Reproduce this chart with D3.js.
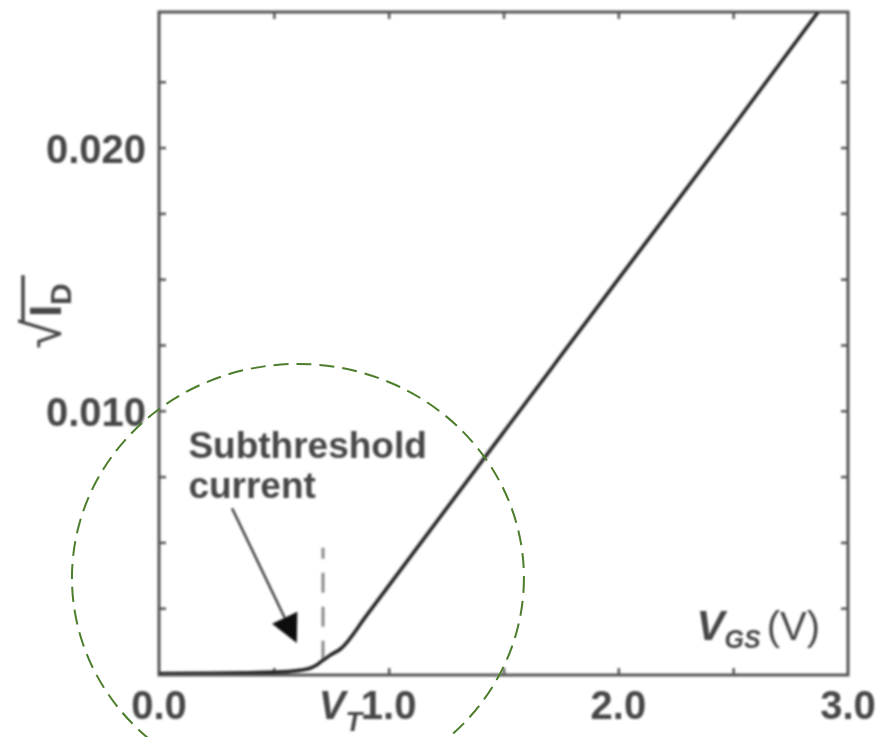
<!DOCTYPE html>
<html>
<head>
<meta charset="utf-8">
<script src="https://cdn.jsdelivr.net/npm/d3@7"></script>
<style>
  html, body { margin: 0; padding: 0; background: #fff; }
  svg { display: block; }
  text { font-family: "Liberation Sans", Arial, Helvetica, sans-serif; }
</style>
</head>
<body>
<svg id="chart" width="883" height="737"></svg>
<script>
// Gate voltage (V) and square root of drain current
const vgs    = [0.0, 0.2, 0.4, 0.5, 0.57, 0.62, 0.66, 0.69, 0.71, 0.73, 0.75, 0.79, 0.9, 1.0, 1.5, 2.0, 2.5, 2.87];
const sqrtId = [0.00002, 0.00003, 0.00005, 0.00007, 0.0001, 0.00015, 0.00023, 0.00036, 0.0005, 0.00062, 0.00074, 0.00095, 0.00218, 0.00335, 0.00918, 0.0150, 0.0208, 0.02515];

// Axis ticks
const xTickLabels = ["0.0", "1.0", "2.0", "3.0"];
const xTickValues = [0, 1, 2, 3];
const xMinorTicks = [0.5, 1, 1.5, 2, 2.5];
const yTickLabels = ["0.010", "0.020"];
const yTickValues = [0.010, 0.020];
const yMinorTicks = [0.0025, 0.005, 0.0075, 0.010, 0.0125, 0.015, 0.0175, 0.020, 0.0225];

// Threshold voltage and annotations
const vT = 0.714;
const vTLine = [0.0005, 0.0048];                 // extent of the dashed marker
const arrowFrom = [0.318, 0.0063];               // [V, sqrt(I)]
const arrowTo   = [0.600, 0.00118];
const noteLines = ["Subthreshold", "current"];
const noteAt    = [0.128, 0.0082];
const ring      = { cx: 0.605, cy: 0.00365, rx: 0.984, ry: 0.00813 };

const svg = d3.select("#chart");
const plotLeft = 159, plotRight = 848, plotTop = 12, plotBottom = 674;

const x = d3.scaleLinear().domain([0, 3]).range([plotLeft, plotRight]);
const y = d3.scaleLinear().domain([0, 0.02515]).range([plotBottom, plotTop]);

const ink = "#262626";
const inkText = "#474747";

// soft edge of the printed figure
const defs = svg.append("defs");
defs.append("filter").attr("id", "soft")
  .attr("x", "-5%").attr("y", "-5%").attr("width", "110%").attr("height", "110%")
  .append("feGaussianBlur").attr("stdDeviation", 0.8);
defs.append("clipPath").attr("id", "plotClip")
  .append("rect").attr("x", plotLeft).attr("y", plotTop)
  .attr("width", plotRight - plotLeft).attr("height", plotBottom - plotTop);

const g = svg.append("g").attr("filter", "url(#soft)");

// frame
g.append("rect")
  .attr("x", plotLeft).attr("y", plotTop)
  .attr("width", plotRight - plotLeft).attr("height", plotBottom - plotTop + 1)
  .attr("fill", "none").attr("stroke", "#555").attr("stroke-width", 3);

// ticks (inside) on all four sides
const bottomAxis = d3.axisBottom(x).tickValues(xMinorTicks).tickSize(-7).tickFormat("");
const topAxis = d3.axisTop(x).tickValues(xMinorTicks).tickSize(-7).tickFormat("");
const leftAxis = d3.axisLeft(y).tickValues(yMinorTicks).tickSize(-7).tickFormat("");
const rightAxis = d3.axisRight(y).tickValues(yMinorTicks).tickSize(-7).tickFormat("");
[[bottomAxis, `translate(0,${plotBottom + 1})`], [topAxis, `translate(0,${plotTop})`],
 [leftAxis, `translate(${plotLeft},0)`], [rightAxis, `translate(${plotRight},0)`]].forEach(([ax, tr]) => {
  const a = g.append("g").attr("transform", tr).call(ax);
  a.select(".domain").remove();
  a.selectAll(".tick line").attr("stroke", "#555").attr("stroke-width", 2.5);
});

// tick labels
g.append("g").selectAll("text").data(xTickValues).join("text")
  .attr("x", d => x(d)).attr("y", 719)
  .attr("text-anchor", "middle")
  .attr("font-size", 40).attr("font-weight", "bold")
  .attr("fill", inkText)
  .text((d, i) => xTickLabels[i]);

g.append("g").selectAll("text").data(yTickValues).join("text")
  .attr("x", 146).attr("y", d => y(d) + 15)
  .attr("text-anchor", "end")
  .attr("font-size", 40).attr("font-weight", "bold")
  .attr("fill", inkText)
  .text((d, i) => yTickLabels[i]);

// V_T label left of the 1.0 tick label
const vtLabel = g.append("text")
  .attr("x", 362).attr("y", 719)
  .attr("text-anchor", "end")
  .attr("font-size", 40).attr("font-weight", "bold").attr("font-style", "italic")
  .attr("fill", inkText);
vtLabel.append("tspan").text("V");
vtLabel.append("tspan").attr("font-size", 27).attr("dy", 12).text("T");

// x-axis title
const xTitle = g.append("text")
  .attr("x", 820).attr("y", 640)
  .attr("text-anchor", "end")
  .attr("font-size", 40).attr("fill", inkText).attr("font-weight", "bold");
xTitle.append("tspan").attr("font-style", "italic").attr("font-size", 42).text("V");
xTitle.append("tspan").attr("font-style", "italic").attr("font-size", 25).attr("dy", 8).text("GS");
xTitle.append("tspan").attr("dy", -8).attr("dx", 6).attr("font-weight", "normal").text("(V)");

// y-axis title: sqrt(I_D) with radical bar
const yTitle = g.append("g").attr("transform", "translate(61,316) rotate(-90)");
const yt = yTitle.append("text")
  .attr("x", 0).attr("y", 0).attr("text-anchor", "middle")
  .attr("font-size", 44).attr("font-weight", "bold").attr("fill", inkText);
yt.append("tspan").attr("font-weight", "normal").attr("font-size", 54).text("\u221A");
yt.append("tspan").attr("dx", 2).text("I");
yt.append("tspan").attr("font-size", 30).attr("dy", 10).text("D");
{
  const bb = yt.node().getBBox();
  const startX = yt.node().getStartPositionOfChar(1).x - 4;
  yTitle.append("line")
    .attr("x1", startX).attr("x2", bb.x + bb.width + 8)
    .attr("y1", -38).attr("y2", -38)
    .attr("stroke", inkText).attr("stroke-width", 3.5);
}

// dashed threshold marker
g.append("line")
  .attr("x1", x(vT)).attr("x2", x(vT))
  .attr("y1", y(vTLine[0])).attr("y2", y(vTLine[1]))
  .attr("stroke", "#8a8a8a").attr("stroke-width", 3)
  .attr("stroke-dasharray", "20,14");

// transfer curve
const pts = vgs.map((v, i) => [v, sqrtId[i]]);
g.append("path")
  .datum(pts)
  .attr("clip-path", "url(#plotClip)")
  .attr("fill", "none").attr("stroke", ink).attr("stroke-width", 3.6)
  .attr("stroke-linejoin", "round")
  .attr("d", d3.line().x(d => x(d[0])).y(d => y(d[1])).curve(d3.curveMonotoneX));

// note text
const note = g.append("text")
  .attr("font-size", 37).attr("font-weight", "bold").attr("fill", inkText);
noteLines.forEach((t, i) => {
  note.append("tspan").attr("x", x(noteAt[0])).attr("y", y(noteAt[1]) + i * 40).text(t);
});

// arrow to the subthreshold region
{
  const x1 = x(arrowFrom[0]), y1 = y(arrowFrom[1]);
  const x2 = x(arrowTo[0]), y2 = y(arrowTo[1]);
  const dx = x2 - x1, dy = y2 - y1, len = Math.hypot(dx, dy);
  const ux = dx / len, uy = dy / len;
  const headL = 28, headW = 14;
  const bx = x2 - ux * headL, by = y2 - uy * headL;
  g.append("line")
    .attr("x1", x1).attr("y1", y1).attr("x2", bx).attr("y2", by)
    .attr("stroke", "#444").attr("stroke-width", 2.5);
  g.append("path")
    .attr("d", `M${x2},${y2}L${bx - uy * headW},${by + ux * headW}L${bx + uy * headW},${by - ux * headW}Z`)
    .attr("fill", "#111");
}

// dashed ring around the threshold region (drawn crisp)
svg.append("ellipse")
  .attr("cx", x(ring.cx)).attr("cy", y(ring.cy))
  .attr("rx", x(ring.cx + ring.rx) - x(ring.cx))
  .attr("ry", y(0) - y(ring.ry))
  .attr("fill", "none").attr("stroke", "#4b7d2b").attr("stroke-width", 2)
  .attr("stroke-dasharray", "15,8");
</script>
</body>
</html>
